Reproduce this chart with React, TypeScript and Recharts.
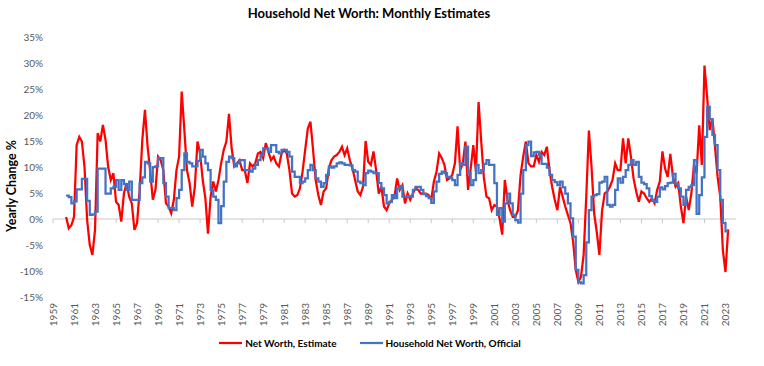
import { Legend, Line, LineChart, ReferenceLine, XAxis, YAxis } from "recharts";

// quarterly readings, first point is Q2 1960
const FIRST_QUARTER = 1960.25;

const seriesNames = ["Net Worth, Estimate", "Household Net Worth, Official"];

// yearly change %, net worth estimate (red)
const estimate1960s = [
  0.4, -1.8, -1.2,
  0.4, 14.2, 15.8, 14.9,
  10.0, -0.2, -5.0, -6.9,
  -2.1, 16.5, 14.9, 18.1,
  15.2, 10.0, 7.5, 8.8,
  3.3, 2.7, -0.5, 4.9,
  6.9, 4.3, 3.0, -2.1,
  -0.8, 5.6, 15.2, 21.0,
  14.0, 9.1, 3.7, 5.6,
  12.0, 11.3, 9.4, 3.0,
];
const estimate1970s = [
  2.4, 1.1, 3.7, 9.4,
  12.0, 24.5, 17.1, 9.4,
  6.9, 2.4, 6.2, 14.9,
  12.6, 7.5, 4.0, -2.8,
  4.3, 7.2, 5.3, 7.5,
  10.7, 13.3, 14.9, 20.2,
  13.6, 10.1, 10.7, 11.3,
  9.4, 9.4, 6.9, 10.7,
  10.1, 10.7, 12.6, 12.9,
  11.7, 14.6, 12.9, 11.3,
];
const estimate1980s = [
  12.0, 10.7, 10.1, 12.6,
  13.3, 12.6, 9.4, 4.9,
  4.3, 4.6, 5.9, 9.1,
  13.3, 17.4, 18.7, 13.3,
  7.5, 4.6, 2.7, 5.3,
  5.9, 9.7, 11.3, 12.0,
  12.3, 12.9, 13.9, 12.3,
  13.6, 11.3, 9.7, 7.5,
  5.3, 4.6, 6.2, 15.0,
  11.0, 10.4, 13.0, 9.4,
];
const estimate1990s = [
  4.9, 6.2, 2.4, 1.7,
  3.0, 3.7, 4.3, 7.8,
  5.6, 6.5, 3.0, 4.9,
  3.7, 4.9, 5.9, 5.6,
  4.9, 4.9, 4.9, 4.6,
  3.7, 7.2, 9.1, 12.6,
  11.7, 10.4, 7.5, 7.8,
  8.5, 10.7, 17.8, 9.4,
  10.7, 14.9, 5.6, 9.7,
  14.2, 9.1, 22.5, 15.0,
];
const estimate2000s = [
  8.1, 4.3, 4.0, 1.7,
  2.7, 2.4, 0.1, -3.0,
  7.5, 3.7, 1.7, 0.4,
  0.4, 1.7, 8.5, 12.0,
  14.9, 10.7, 10.1, 10.1,
  12.3, 11.0, 12.9, 12.3,
  13.9, 9.4, 6.2, 3.7,
  1.7, 6.2, 4.3, 2.4,
  0.8, -0.8, -4.4, -9.8,
  -12.1, -11.1, -6.9, 4.3,
];
const estimate2010s = [
  17.0, 10.1, 1.1, -2.5,
  -6.9, 1.5, 4.9, 5.3,
  6.2, 7.5, 10.7, 9.4,
  9.4, 15.5, 10.7, 15.5,
  12.0, 7.8, 5.3, 3.3,
  5.3, 4.9, 4.0, 3.3,
  4.0, 3.0, 5.6, 7.2,
  13.0, 9.7, 8.1, 12.5,
  8.1, 6.2, 6.9, 2.4,
  -0.8, 4.3, 1.7, 4.9,
];
const estimate2020s = [
  10.4, 8.8, 18.0, 10.4,
  29.5, 23.5, 17.1, 19.4,
  13.9, 8.1, 4.3, -6.0,
  -10.2, -2.0,
];

// yearly change %, household net worth official (blue)
const official1960s = [
  4.5, 4.2, 3.0,
  3.4, 5.7, 5.7, 7.7,
  7.7, 3.5, 0.8, 0.9,
  1.4, 9.7, 9.7, 9.7,
  4.9, 4.9, 5.9, 6.2,
  7.5, 5.6, 7.5, 6.7,
  5.6, 7.2, 3.7, 3.7,
  3.7, 6.9, 8.0, 11.0,
  10.7, 7.2, 10.0, 10.1,
  11.7, 11.7, 6.9, 4.3,
];
const official1970s = [
  2.1, 2.1, 1.7, 4.0,
  5.6, 9.4, 12.6, 11.0,
  10.7, 10.1, 10.1, 11.2,
  13.3, 12.0, 10.7, 9.4,
  5.6, 4.3, 3.7, -0.8,
  2.5, 7.2, 11.0, 12.0,
  11.7, 10.1, 10.7, 11.3,
  11.3, 9.4, 9.4, 9.1,
  9.7, 10.4, 11.3, 12.3,
  13.6, 13.6, 12.9, 14.2,
];
const official1980s = [
  14.2, 12.9, 12.6, 13.3,
  13.3, 12.9, 12.0, 9.1,
  8.1, 8.1, 6.9, 7.2,
  7.8, 9.4, 10.4, 9.4,
  7.8, 7.2, 6.2, 6.9,
  8.5, 10.1, 9.9, 10.1,
  10.7, 10.9, 10.7, 10.4,
  10.4, 10.3, 9.4, 9.1,
  7.2, 6.9, 6.5, 8.8,
  9.3, 9.1, 8.8, 8.8,
];
const official1990s = [
  6.9, 5.9, 4.6, 3.0,
  3.3, 4.6, 4.0, 5.9,
  6.3, 4.3, 4.3, 4.4,
  4.3, 5.6, 6.2, 6.2,
  5.6, 4.8, 4.4, 4.0,
  3.1, 5.3, 7.2, 8.7,
  9.1, 8.8, 8.1, 7.9,
  7.5, 6.5, 8.5, 10.7,
  10.4, 13.9, 8.8, 6.5,
  7.5, 10.4, 8.8, 9.4,
];
const official2000s = [
  10.6, 11.3, 10.4, 10.4,
  6.9, 0.8, 2.1, -0.5,
  3.0, 4.9, 3.0, 0.8,
  -0.2, -0.7, 4.9, 9.4,
  14.2, 14.9, 12.1, 12.8,
  12.9, 12.3, 10.6, 10.6,
  9.9, 8.5, 7.5, 7.1,
  6.5, 7.2, 6.1, 4.9,
  3.0, 0.1, -3.4, -9.8,
  -12.2, -12.4, -10.8, -4.5,
];
const official2010s = [
  1.7, 4.3, 4.6, 4.8,
  7.0, 7.2, 8.1, 2.7,
  2.4, 2.7, 5.6, 7.8,
  7.0, 8.1, 9.4, 10.4,
  11.3, 10.4, 11.0, 8.1,
  7.0, 6.7, 5.9, 4.4,
  3.5, 3.3, 4.3, 6.1,
  5.7, 6.3, 6.9, 7.0,
  8.7, 6.7, 5.9, 4.3,
  2.7, 5.6, 6.2, 6.5,
];
const official2020s = [
  11.3, 1.0, 4.6, 8.0,
  15.8, 21.6, 19.2, 16.2,
  14.2, 9.4, 3.7, -0.8,
  -2.4, -2.4,
];

const xTickYears = [
  1959, 1961, 1963, 1965, 1967, 1969, 1971, 1973, 1975, 1977, 1979,
  1981, 1983, 1985, 1987, 1989, 1991, 1993, 1995, 1997, 1999, 2001,
  2003, 2005, 2007, 2009, 2011, 2013, 2015, 2017, 2019, 2021, 2023,
];
const yTicks = [-15, -10, -5, 0, 5, 10, 15, 20, 25, 30, 35];

const estimate = [
  ...estimate1960s, ...estimate1970s, ...estimate1980s, ...estimate1990s,
  ...estimate2000s, ...estimate2010s, ...estimate2020s,
];
const official = [
  ...official1960s, ...official1970s, ...official1980s, ...official1990s,
  ...official2000s, ...official2010s, ...official2020s,
];

const data = estimate.map((v, i) => ({
  t: FIRST_QUARTER + i / 4,
  estimate: v,
  official: official[i],
}));

const FONT = "Lato, 'Open Sans', sans-serif";
const GREY = "#595959";

function YearTick({ x, y, payload }: { x: number; y: number; payload: { value: number } }) {
  return (
    <text
      x={x}
      y={y}
      dy={3.5}
      transform={`rotate(-90 ${x} ${y})`}
      textAnchor="end"
      fontSize={10}
      fill={GREY}
    >
      {payload.value}
    </text>
  );
}

function LegendRow({ payload }: { payload?: { value: string; color: string }[] }) {
  // keep the series order (recharts sorts by name otherwise)
  const items = [...(payload ?? [])].sort(
    (a, b) => seriesNames.indexOf(a.value) - seriesNames.indexOf(b.value)
  );
  return (
    <div
      style={{
        display: "flex",
        justifyContent: "center",
        alignItems: "center",
        gap: 23,
        height: 20,
        width: 740,
      }}
    >
      {items.map((p) => (
        <div key={p.value} style={{ display: "flex", alignItems: "center", gap: 3 }}>
          <svg width={23} height={4}>
            <line x1={0} y1={2} x2={23} y2={2} stroke={p.color} strokeWidth={2.25} />
          </svg>
          <span style={{ fontSize: 10, fontWeight: 700, color: "#000" }}>{p.value}</span>
        </div>
      ))}
    </div>
  );
}

function AxisTitle({ viewBox }: any) {
  const x = viewBox.x + 16;
  const y = viewBox.y + viewBox.height / 2 + 19;
  return (
    <text
      x={x}
      y={y}
      transform={`rotate(-90 ${x} ${y})`}
      textAnchor="middle"
      fontSize={12.5}
      fontWeight={700}
      fill="#000"
    >
      Yearly Change %
    </text>
  );
}

export default function App() {
  return (
    <div
      style={{
        position: "absolute",
        left: 0,
        top: 0,
        width: 764,
        height: 366,
        background: "#fff",
        fontFamily: FONT,
      }}
    >
      <div
        style={{
          position: "absolute",
          top: 5,
          left: 0,
          width: 738,
          textAlign: "center",
          fontSize: 13,
          fontWeight: 700,
          color: "#000",
        }}
      >
        Household Net Worth: Monthly Estimates
      </div>
      <LineChart
        width={764}
        height={366}
        data={data}
        margin={{ top: 37, right: 28, bottom: 13, left: 0 }}
      >
        <XAxis
          dataKey="t"
          type="number"
          domain={[1959, 2024]}
          ticks={xTickYears}
          interval={0}
          axisLine={false}
          tickLine={false}
          tickSize={0}
          tickMargin={6}
          height={36}
          tick={YearTick}
        />
        <YAxis
          domain={[-15, 35]}
          ticks={yTicks}
          interval={0}
          axisLine={false}
          tickLine={false}
          tickSize={0}
          tickMargin={10}
          width={53}
          tick={{ fontSize: 10, fill: GREY }}
          tickFormatter={(v) => `${v}%`}
          label={{ content: <AxisTitle /> }}
        />
        <ReferenceLine y={0} stroke="#c9c9c9" strokeWidth={1} />
        {xTickYears.map((yr) => (
          <ReferenceLine
            key={yr}
            segment={[
              { x: yr, y: 0 },
              { x: yr, y: -0.8 },
            ]}
            stroke="#c9c9c9"
            strokeWidth={1}
          />
        ))}
        <Legend verticalAlign="bottom" content={<LegendRow />} wrapperStyle={{ left: 0, width: 740 }} />
        <Line
          name={seriesNames[0]}
          type="linear"
          dataKey="estimate"
          stroke="#ff0000"
          strokeWidth={2.25}
          dot={false}
          isAnimationActive={false}
        />
        <Line
          name={seriesNames[1]}
          type="stepAfter"
          dataKey="official"
          stroke="#4472c4"
          strokeWidth={2.25}
          dot={false}
          isAnimationActive={false}
        />
      </LineChart>
    </div>
  );
}
